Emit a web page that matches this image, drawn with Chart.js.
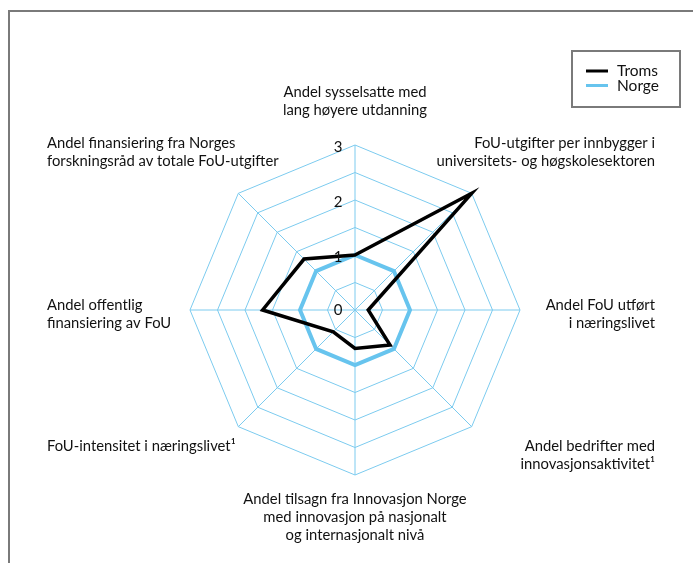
<!DOCTYPE html>
<html>
<head>
<meta charset="utf-8">
<script src="https://cdn.jsdelivr.net/npm/chart.js@4.4.1/dist/chart.umd.min.js"></script>
<style>
  body { margin: 0; background: #fff; }
  #wrap { position: relative; width: 693px; height: 563px; overflow: hidden; }
  #frame { position: absolute; left: 8px; top: 10px; width: 700px; height: 600px;
           border-left: 2px solid #7a7a7a; border-top: 2px solid #7a7a7a; }
  canvas { position: absolute; left: 0; top: 0; }
</style>
</head>
<body>
<div id="wrap">
  <div id="frame"></div>
  <canvas id="chart" width="693" height="563"></canvas>
</div>
<script>
const categories = [
  ["Andel sysselsatte med", "lang høyere utdanning"],
  ["FoU-utgifter per innbygger i", "universitets- og høgskolesektoren"],
  ["Andel FoU utført", "i næringslivet"],
  ["Andel bedrifter med", "innovasjonsaktivitet¹"],
  ["Andel tilsagn fra Innovasjon Norge", "med innovasjon på nasjonalt", "og internasjonalt nivå"],
  ["FoU-intensitet i næringslivet¹"],
  ["Andel offentlig", "finansiering av FoU"],
  ["Andel finansiering fra Norges", "forskningsråd av totale FoU-utgifter"],
];
const troms = [1.0, 3.0, 0.24, 0.9, 0.7, 0.56, 1.68, 1.31];
const norge = [1, 1, 1, 1, 1, 1, 1, 1];
const tickLabels = [0, 1, 2, 3];

const FONT = "Lato, 'Liberation Sans', sans-serif";
const GRID = "#7ccbef";

// labels, tick numbers and legend drawn by hand so the radar keeps its size
const decor = {
  id: "decor",
  afterDraw(chart) {
    const ctx = chart.ctx;
    const s = chart.scales.r;
    const n = chart.data.labels.length;
    const lh = 18;
    ctx.save();
    ctx.fillStyle = "#111";
    ctx.font = "15px " + FONT;

    // tick numbers, left of the vertical axis
    ctx.textAlign = "center";
    ctx.textBaseline = "middle";
    tickLabels.forEach((v) => {
      const d = s.getDistanceFromCenterForValue(v);
      ctx.fillText(String(v), s.xCenter - 17, s.yCenter - d + (v === 0 ? 0 : 2));
    });

    // point labels
    ctx.font = "14.8px " + FONT;
    chart.data.labels.forEach((lines, i) => {
      const ang = (i * 2 * Math.PI) / n;
      const sin = Math.sin(ang);
      const cos = Math.cos(ang);
      let x, align;
      if (Math.abs(sin) < 0.01) {
        x = s.xCenter;
        align = "center";
      } else if (sin > 0) {
        x = 655;
        align = "right";
      } else {
        x = 47;
        align = "left";
      }
      const h = lines.length * lh;
      let top;
      if (cos > 0.01) {
        const p = s.getPointPosition(i, s.drawingArea + 31 + (Math.abs(sin) > 0.01 ? 2 : -5));
        top = p.y - h;
      } else if (cos < -0.01) {
        const p = s.getPointPosition(i, s.drawingArea + 15);
        top = p.y;
      } else {
        top = s.yCenter + 4 - h / 2;
      }
      ctx.textAlign = align;
      ctx.textBaseline = "middle";
      lines.forEach((t, k) => ctx.fillText(t, x, top + lh * k + lh / 2));
    });

    // legend box
    const bx = 572, by = 51, bw = 108, bh = 56;
    ctx.strokeStyle = "#7a7a7a";
    ctx.lineWidth = 2;
    ctx.strokeRect(bx, by, bw, bh);
    chart.data.datasets.forEach((ds, k) => {
      const y = by + 20 + k * 14.5;
      ctx.strokeStyle = ds.borderColor;
      ctx.lineWidth = 3;
      ctx.beginPath();
      ctx.moveTo(bx + 14, y);
      ctx.lineTo(bx + 36, y);
      ctx.stroke();
      ctx.fillStyle = "#111";
      ctx.textAlign = "left";
      ctx.font = "15.5px " + FONT;
      ctx.fillText(ds.label, bx + 45, y);
    });
    ctx.restore();
  },
};

new Chart(document.getElementById("chart"), {
  type: "radar",
  data: {
    labels: categories,
    datasets: [
      {
        label: "Troms",
        data: troms,
        borderColor: "#000000",
        borderWidth: 3.5,
        fill: false,
        pointRadius: 0,
        pointHoverRadius: 0,
        borderJoinStyle: "miter",
        order: 0,
      },
      {
        label: "Norge",
        data: norge,
        borderColor: "#67c4ee",
        borderWidth: 4,
        fill: false,
        pointRadius: 0,
        pointHoverRadius: 0,
        order: 1,
      },
    ],
  },
  options: {
    responsive: false,
    animation: false,
    layout: { padding: { left: 190, right: 173, top: 145, bottom: 88 } },
    plugins: { legend: { display: false }, tooltip: { enabled: false } },
    scales: {
      r: {
        min: 0,
        max: 3,
        ticks: { display: false, stepSize: 0.5 },
        grid: { color: GRID, lineWidth: 1 },
        angleLines: { color: GRID, lineWidth: 1 },
        pointLabels: { display: false },
      },
    },
  },
  plugins: [decor],
});
</script>
</body>
</html>
